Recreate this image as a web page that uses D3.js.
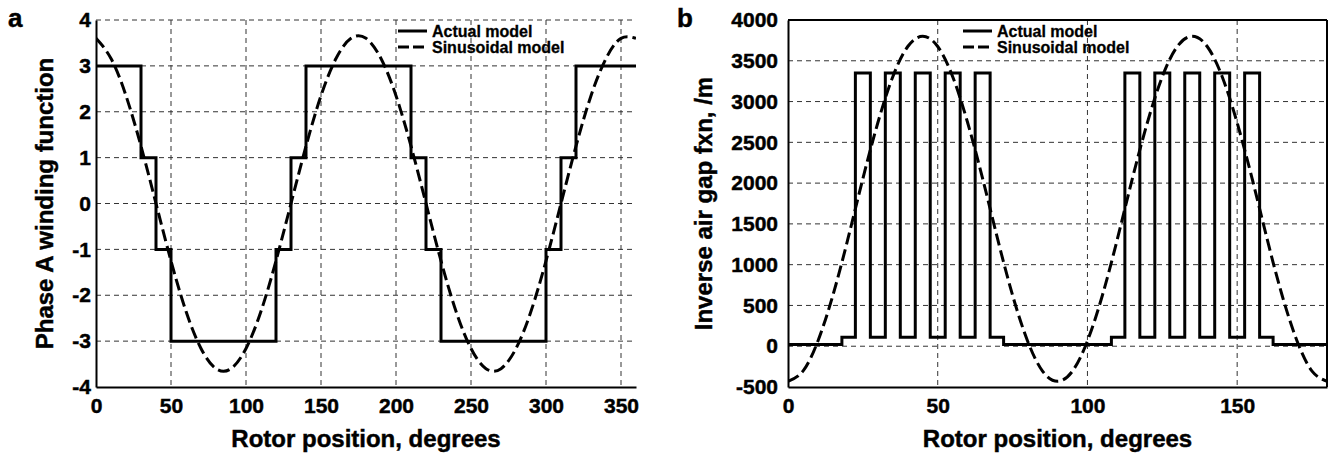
<!DOCTYPE html>
<html>
<head>
<meta charset="utf-8">
<script src="https://cdn.jsdelivr.net/npm/d3@7/dist/d3.min.js"></script>
<style>
  body { margin: 0; background: #fff; }
  svg text { font-family: "Liberation Sans", Arial, sans-serif; font-weight: bold; fill: #000; stroke: #000; stroke-width: 0.45px; }
  .grid line { stroke: #333; stroke-width: 1; stroke-dasharray: 5,4; }
  .axis path { stroke: #000; stroke-width: 2; }
  .axis line { display: none; }
</style>
</head>
<body>
<svg id="chart" width="1330" height="454"></svg>
<script>
// panel a: phase A winding function
const windingStepX = [0, 30, 40, 50, 120, 130, 140, 210, 220, 230, 300, 310, 320, 360];
const windingStepY = [3, 1, -1, -3, -1, 1, 3, 1, -1, -3, -1, 1, 3, 3];
const windingSineX = [0, 10, 20, 30, 40, 50, 60, 70, 80, 90, 100, 110, 120, 130, 140, 150, 160, 170, 180,
  190, 200, 210, 220, 230, 240, 250, 260, 270, 280, 290, 300, 310, 320, 330, 340, 350, 360];
const windingSineY = [3.60, 3.16, 2.35, 1.25, 0, -1.25, -2.35, -3.16, -3.60, -3.60, -3.16, -2.35, -1.25, 0,
  1.25, 2.35, 3.16, 3.60, 3.60, 3.16, 2.35, 1.25, 0, -1.25, -2.35, -3.16, -3.60, -3.60, -3.16, -2.35,
  -1.25, 0, 1.25, 2.35, 3.16, 3.60, 3.60];
const windingXTicks = [0, 50, 100, 150, 200, 250, 300, 350];
const windingYTicks = [-4, -3, -2, -1, 0, 1, 2, 3, 4];

// panel b: inverse air gap function
const gapStepX = [0, 18, 22.5, 27.5, 32.5, 37.5, 42.5, 47.5, 52.5, 57.5, 62.5, 67.5, 72,
  108, 112.5, 117.5, 122.5, 127.5, 132.5, 137.5, 142.5, 147.5, 152.5, 157.5, 162, 180];
const gapStepY = [20, 110, 3350, 110, 3350, 110, 3350, 110, 3350, 110, 3350, 110, 20,
  110, 3350, 110, 3350, 110, 3350, 110, 3350, 110, 3350, 110, 20, 20];
const gapSineX = [0, 5, 10, 15, 20, 25, 30, 35, 40, 45, 50, 55, 60, 65, 70, 75, 80, 85, 90,
  95, 100, 105, 110, 115, 120, 125, 130, 135, 140, 145, 150, 155, 160, 165, 170, 175, 180];
const gapSineY = [-430, -305, 65, 625, 1315, 2055, 2740, 3305, 3675, 3800, 3675, 3305, 2740, 2055, 1315, 625, 65, -305, -430,
  -305, 65, 625, 1315, 2055, 2740, 3305, 3675, 3800, 3675, 3305, 2740, 2055, 1315, 625, 65, -305, -430];
const gapXTicks = [0, 50, 100, 150];
const gapYTicks = [-500, 0, 500, 1000, 1500, 2000, 2500, 3000, 3500, 4000];

const legendLabels = ["Actual model", "Sinusoidal model"];

const svg = d3.select("#chart");

function drawPanel(p) {
  const x = d3.scaleLinear().domain(p.xDomain).range([p.left, p.right]);
  const y = d3.scaleLinear().domain(p.yDomain).range([p.bottom, p.top]);
  const g = svg.append("g");

  // grid
  const grid = g.append("g").attr("class", "grid");
  grid.selectAll(".vx")
    .data(p.xTicks.filter(d => d > p.xDomain[0]))
    .enter().append("line")
    .attr("x1", d => x(d)).attr("x2", d => x(d))
    .attr("y1", p.top).attr("y2", p.bottom);
  grid.selectAll(".hy")
    .data(p.yTicks.filter(d => d > p.yDomain[0]))
    .enter().append("line")
    .attr("x1", p.left).attr("x2", p.right)
    .attr("y1", d => y(d)).attr("y2", d => y(d));

  const clipId = "clip-" + p.name;
  svg.append("clipPath").attr("id", clipId)
    .append("rect")
    .attr("x", p.left).attr("y", p.top - 2)
    .attr("width", p.right - p.left).attr("height", p.bottom - p.top + 4);

  const lines = g.append("g").attr("clip-path", `url(#${clipId})`);

  const step = d3.line().curve(d3.curveStepAfter)
    .x(d => x(d[0])).y(d => y(d[1]));
  lines.append("path")
    .datum(d3.zip(p.stepX, p.stepY))
    .attr("d", step)
    .attr("fill", "none").attr("stroke", "#000").attr("stroke-width", 3);

  const sine = d3.line().curve(d3.curveNatural)
    .x(d => x(d[0])).y(d => y(d[1]));
  lines.append("path")
    .datum(d3.zip(p.sineX, p.sineY))
    .attr("d", sine)
    .attr("fill", "none").attr("stroke", "#000").attr("stroke-width", 3)
    .attr("stroke-dasharray", "12,5");

  // axes
  const fmt = d => String(d);
  g.append("g").attr("class", "axis")
    .attr("transform", `translate(0,${p.bottom})`)
    .call(d3.axisBottom(x).tickValues(p.xTicks).tickFormat(fmt).tickSize(0).tickPadding(11).tickSizeOuter(0));
  g.append("g").attr("class", "axis")
    .attr("transform", `translate(${p.left},0)`)
    .call(d3.axisLeft(y).tickValues(p.yTicks).tickFormat(fmt).tickSize(0).tickPadding(p.yPad).tickSizeOuter(0));
  g.selectAll(".axis text").style("font-size", "21px").attr("fill", "#000");
  g.selectAll(".axis .domain").attr("stroke", "#000").attr("stroke-width", 2);

  if (p.box) {
    g.append("line").attr("x1", p.left).attr("x2", p.right).attr("y1", p.top).attr("y2", p.top)
      .attr("stroke", "#000").attr("stroke-width", 2);
    g.append("line").attr("x1", p.right).attr("x2", p.right).attr("y1", p.top).attr("y2", p.bottom)
      .attr("stroke", "#000").attr("stroke-width", 2);
  }

  // titles
  g.append("text")
    .attr("x", (p.left + p.right) / 2).attr("y", 447)
    .attr("text-anchor", "middle").style("font-size", "24px")
    .text("Rotor position, degrees");
  g.append("text")
    .attr("transform", `translate(${p.yTitleX},${(p.top + p.bottom) / 2}) rotate(-90)`)
    .attr("text-anchor", "middle").style("font-size", "24px")
    .text(p.yTitle);
  g.append("text")
    .attr("x", p.tagX).attr("y", 27)
    .style("font-size", "26px")
    .text(p.tag);

  // legend
  const lg = g.append("g").attr("transform", `translate(${p.legendX},0)`);
  legendLabels.forEach((label, i) => {
    const ly = 31 + i * 16;
    lg.append("line")
      .attr("x1", 0).attr("x2", 29).attr("y1", ly).attr("y2", ly)
      .attr("stroke", "#000").attr("stroke-width", 3)
      .attr("stroke-dasharray", i === 1 ? "11,4" : null);
    lg.append("text")
      .attr("x", 34).attr("y", ly + 6)
      .style("font-size", "16px")
      .style("stroke-width", "0.3px")
      .text(label);
  });
}

drawPanel({
  name: "a", tag: "a", tagX: 8,
  left: 96, right: 636, top: 20, bottom: 387,
  xDomain: [0, 360], yDomain: [-4, 4],
  xTicks: windingXTicks, yTicks: windingYTicks, yPad: 5,
  stepX: windingStepX, stepY: windingStepY,
  sineX: windingSineX, sineY: windingSineY,
  yTitle: "Phase A winding function", yTitleX: 53,
  legendX: 398, box: false
});

drawPanel({
  name: "b", tag: "b", tagX: 677,
  left: 788, right: 1327, top: 20, bottom: 387,
  xDomain: [0, 180], yDomain: [-500, 4000],
  xTicks: gapXTicks, yTicks: gapYTicks, yPad: 10,
  stepX: gapStepX, stepY: gapStepY,
  sineX: gapSineX, sineY: gapSineY,
  yTitle: "Inverse air gap fxn, /m", yTitleX: 712,
  legendX: 963, box: true
});
</script>
</body>
</html>
